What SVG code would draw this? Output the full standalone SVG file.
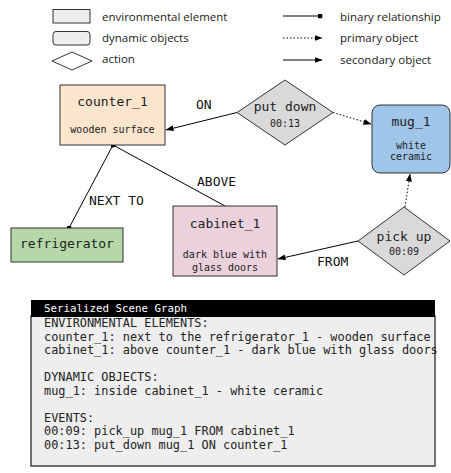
<svg xmlns="http://www.w3.org/2000/svg" width="451" height="473" viewBox="0 0 451 473">
<defs>
<marker id="ah" viewBox="0 0 8 6" refX="7.5" refY="3" markerWidth="8" markerHeight="6" markerUnits="userSpaceOnUse" orient="auto"><path d="M0,0 L8,3 L0,6 z" fill="#000"/></marker>
<marker id="dot" viewBox="0 0 6 6" refX="3" refY="3" markerWidth="5" markerHeight="5" markerUnits="userSpaceOnUse"><circle cx="3" cy="3" r="3" fill="#000"/></marker>
</defs>
<style>
.leg{font-family:"Open Sans","Noto Sans",sans-serif;font-size:11.5px;fill:#222}
.nd{stroke:#333;stroke-width:1}
.t1{font-family:"DejaVu Sans Mono",monospace;font-size:13px;fill:#222;text-anchor:middle}
.t2{font-family:"DejaVu Sans Mono",monospace;font-size:10px;fill:#222;text-anchor:middle}
.el{font-family:"DejaVu Sans Mono",monospace;font-size:13px;fill:#111}
.solid{stroke:#000;stroke-width:1;fill:none}
.dotted{stroke:#000;stroke-width:1;fill:none;stroke-dasharray:1.5,2}
.code{font-family:"DejaVu Sans Mono",monospace;font-size:11.9px;fill:#222}
</style>
<rect width="451" height="473" fill="#fff"/>
<g id="legend">
<rect x="53" y="9.5" width="37" height="13.5" fill="#eee" class="nd"/>
<rect x="53" y="31.5" width="37" height="13.5" rx="3" fill="#eee" class="nd"/>
<path d="M52,61 L72,52 L92,61 L72,70 z" fill="#fff" class="nd"/>
<text class="leg" x="102" y="21">environmental element</text>
<text class="leg" x="102" y="42">dynamic objects</text>
<text class="leg" x="102" y="63">action</text>
<line x1="283" y1="16" x2="320" y2="16" class="solid" marker-end="url(#dot)"/>
<line x1="283" y1="38" x2="322" y2="38" class="dotted" marker-end="url(#ah)"/>
<line x1="283" y1="60" x2="322" y2="60" class="solid" marker-end="url(#ah)"/>
<text class="leg" x="340" y="21">binary relationship</text>
<text class="leg" x="340" y="42">primary object</text>
<text class="leg" x="340" y="64">secondary object</text>
</g>
<g id="connectors">
<line x1="237" y1="112.5" x2="166" y2="130" class="solid" marker-end="url(#ah)"/>
<line x1="333" y1="112.5" x2="371" y2="124" class="dotted" marker-end="url(#ah)"/>
<line x1="358" y1="241" x2="278" y2="259" class="solid" marker-end="url(#ah)"/>
<line x1="405" y1="207" x2="410" y2="174" class="dotted" marker-end="url(#ah)"/>
<line x1="113" y1="145" x2="69" y2="228" class="solid" marker-end="url(#dot)"/>
<line x1="225" y1="206" x2="113" y2="145" class="solid" marker-end="url(#dot)"/>
<text class="el" x="196" y="109">ON</text>
<text class="el" x="197" y="186">ABOVE</text>
<text class="el" x="89" y="205">NEXT TO</text>
<text class="el" x="317" y="266">FROM</text>
</g>
<g id="counter_1">
<rect x="60" y="85" width="105" height="60" fill="#fce5cd" class="nd"/>
<text class="t1" x="112.5" y="106">counter_1</text>
<text class="t2" x="112.5" y="133">wooden surface</text>
</g>
<g id="put_down">
<path d="M237,112.5 L285,80 L333,112.5 L285,145 z" fill="#d9d9d9" class="nd"/>
<text class="t1" x="285" y="111">put down</text>
<text class="t2" x="285" y="126.5">00:13</text>
</g>
<g id="mug_1">
<rect x="372" y="105" width="78" height="68" rx="8" fill="#9fc5e8" class="nd"/>
<text class="t1" x="411" y="126">mug_1</text>
<text class="t2" x="411" y="148.5">white</text>
<text class="t2" x="411" y="160">ceramic</text>
</g>
<g id="refrigerator">
<rect x="11" y="228" width="112" height="34" fill="#b6d7a8" class="nd"/>
<text class="t1" x="67" y="248">refrigerator</text>
</g>
<g id="cabinet_1">
<rect x="173" y="206" width="104" height="70" fill="#ead1dc" class="nd"/>
<text class="t1" x="225" y="227.5">cabinet_1</text>
<text class="t2" x="225" y="257.5">dark blue with</text>
<text class="t2" x="225" y="270.5">glass doors</text>
</g>
<g id="pick_up">
<path d="M358,241 L404,207 L450,241 L404,275 z" fill="#d9d9d9" class="nd"/>
<text class="t1" x="404" y="241">pick up</text>
<text class="t2" x="404" y="255">00:09</text>
</g>
<g id="scene_graph">
<rect x="31" y="316" width="404" height="150" fill="#eee" stroke="#444" stroke-width="1.5"/>
<rect x="31" y="300" width="404" height="17" fill="#000"/>
<text x="44" y="312" font-family="DejaVu Sans Mono,monospace" font-size="10.8" fill="#fff">Serialized Scene Graph</text>
<text class="code" x="44" y="327">ENVIRONMENTAL ELEMENTS:</text>
<text class="code" x="44" y="340.5">counter_1: next to the refrigerator_1 - wooden surface</text>
<text class="code" x="44" y="354">cabinet_1: above counter_1 - dark blue with glass doors</text>
<text class="code" x="44" y="381">DYNAMIC OBJECTS:</text>
<text class="code" x="44" y="394.5">mug_1: inside cabinet_1 - white ceramic</text>
<text class="code" x="44" y="421.5">EVENTS:</text>
<text class="code" x="44" y="435">00:09: pick_up mug_1 FROM cabinet_1</text>
<text class="code" x="44" y="448.5">00:13: put_down mug_1 ON counter_1</text>
</g>
</svg>
